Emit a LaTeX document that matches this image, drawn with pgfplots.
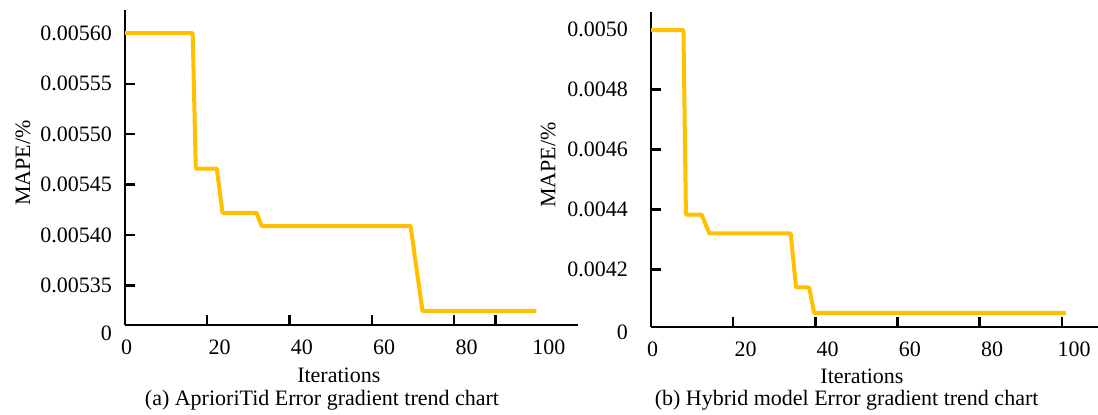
\documentclass[border=0pt]{standalone}
\usepackage{pgfplots}
\pgfplotsset{compat=1.18}
\usepackage{fontspec}
\setmainfont{Liberation Serif}
\definecolor{gold}{HTML}{FFC000}
\begin{document}
\begin{tikzpicture}
\useasboundingbox (0,0) rectangle (549pt,207pt);
\pgfplotsset{
  every axis/.append style={
    scale only axis,
    axis x line*=bottom, axis y line*=left,
    axis line style={line width=1.2pt, black},
    tick style={line width=1.2pt, black},
    tick align=inside,
    major tick length=5pt,
    scaled y ticks=false,
    font=\fontsize{11}{13}\selectfont,
    xmin=0,
    xtick={0,20,40,60,80},
    xticklabels={,,,,,,},
    extra x ticks={0.4,23,43,63,83,103},
    extra x tick labels={0,20,40,60,80,100},
    extra x tick style={major tick length=0pt, xticklabel style={yshift=-4pt}},
    yticklabel style={xshift=-3pt},
    xlabel={Iterations},
    ylabel={MAPE/\%},
    x label style={at={(axis description cs:0.472,-0.159)}, anchor=center},
    y label style={anchor=center, rotate=0},
  }
}
\begin{axis}[
  at={(62.5pt,44.5pt)}, anchor=south west,
  width=226.5pt, height=157.5pt,
  xmax=110.1,
  xtick={0,20,40,60,80,90},
  ymin=0.005311, ymax=0.005623,
  ytick={0.00535,0.00540,0.00545,0.00550,0.00555,0.00560},
  yticklabels={0.00535,0.00540,0.00545,0.00550,0.00555,0.00560},
  extra y ticks={0.005311},
  extra y tick labels={0},
  extra y tick style={major tick length=0pt, yticklabel style={yshift=-4pt}},
  y label style={at={(axis description cs:-0.225,0.514)}},
]
\addplot[gold, line width=2pt, line join=round] coordinates {
(0,0.005600) (16.45,0.005600) (17.2,0.005466) (22.3,0.005466) (23.7,0.005422)
(32.0,0.005422) (33.2,0.005409) (69.4,0.005409) (72.3,0.005325) (100,0.005325)
};
\end{axis}
\begin{axis}[
  at={(325.5pt,43.65pt)}, anchor=south west,
  width=223.5pt, height=157.5pt,
  xmax=108.8,
  xtick={0,20,40,60,80,100},
  ymin=0.004009, ymax=0.005059,
  ytick={0.0042,0.0044,0.0046,0.0048,0.0050},
  yticklabels={0.0042,0.0044,0.0046,0.0048,0.0050},
  yticklabel style={xshift=-5pt},
  extra y ticks={0.004009},
  extra y tick labels={0},
  extra y tick style={major tick length=0pt, yticklabel style={yshift=-3pt}},
  y label style={at={(axis description cs:-0.230,0.513)}},
]
\addplot[gold, line width=2pt, line join=round] coordinates {
(0,0.004998) (7.9,0.004998) (8.5,0.004383) (12.3,0.004383) (14.2,0.004320)
(34.0,0.004320) (35.3,0.004140) (38.5,0.004140) (39.7,0.004055) (101,0.004055)
};
\end{axis}
\node[font=\fontsize{11}{13}\selectfont] at (161pt,7pt) {(a) AprioriTid Error gradient trend chart};
\node[font=\fontsize{11}{13}\selectfont] at (423.3pt,7pt) {(b) Hybrid model Error gradient trend chart};
\end{tikzpicture}
\end{document}
